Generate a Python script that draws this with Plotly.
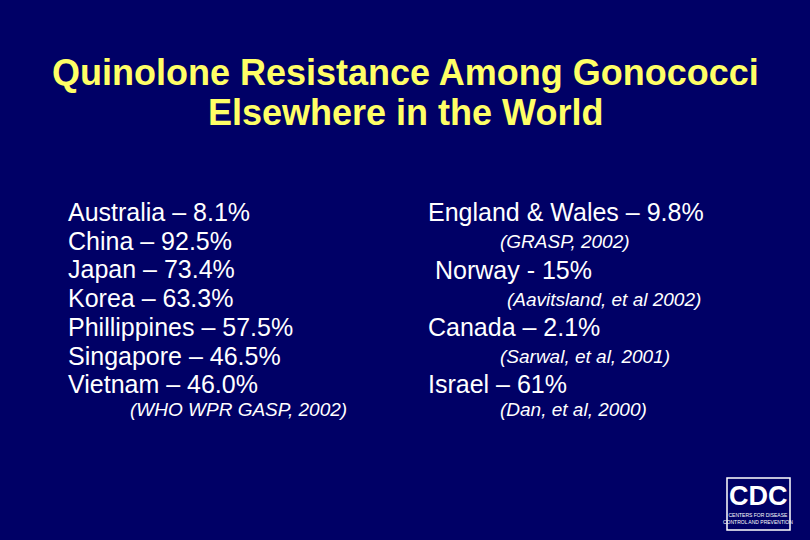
import plotly.graph_objects as go

# Slide text
title_lines = ["Quinolone Resistance Among Gonococci", "Elsewhere in the World"]

asia_countries = ["Australia", "China", "Japan", "Korea", "Phillippines", "Singapore", "Vietnam"]
asia_values = ["8.1%", "92.5%", "73.4%", "63.3%", "57.5%", "46.5%", "46.0%"]
asia_source = "(WHO WPR GASP, 2002)"

other_countries = ["England & Wales", "Norway", "Canada", "Israel"]
other_values = ["9.8%", "15%", "2.1%", "61%"]
other_seps = [" – ", " - ", " – ", " – "]
other_sources = ["(GRASP, 2002)", "(Aavitsland, et al 2002)", "(Sarwal, et al, 2001)", "(Dan, et al, 2000)"]

BG = "#000066"
YELLOW = "#FFFF66"
FONT = "Liberation Sans, Arial, sans-serif"

fig = go.Figure()
ann = []

def txt(x, y, s, size, color="white", anchor="left", italic=False, bold=False):
    if italic:
        s = "<i>" + s + "</i>"
    if bold:
        s = "<b>" + s + "</b>"
    ann.append(dict(x=x, y=y, text=s, showarrow=False, xanchor=anchor, yanchor="middle",
                    font=dict(family=FONT, size=size, color=color)))

for i, line in enumerate(title_lines):
    txt(405, 72 + i * 40, line, 36, YELLOW, "center", bold=True)

for i, (c, v) in enumerate(zip(asia_countries, asia_values)):
    txt(66, 212 + i * 28.7, c + " – " + v, 25)
txt(128, 409, asia_source, 19, italic=True)

main_x = [426, 433, 426, 426]
src_x = [498, 505, 498, 498]
main_y = [212, 270, 327, 384]
src_y = [241, 299, 356, 409]
for i, (c, v) in enumerate(zip(other_countries, other_values)):
    txt(main_x[i], main_y[i], c + other_seps[i] + v, 25)
    txt(src_x[i], src_y[i], other_sources[i], 19, italic=True)

# CDC logo
fig.add_shape(type="rect", x0=727, x1=790, y0=478, y1=530, line=dict(color="white", width=1.5))
txt(758, 496, "<b>CDC</b>", 27, anchor="center")
txt(758, 518, "CENTERS FOR DISEASE<br>CONTROL AND PREVENTION", 5, anchor="center")

fig.update_layout(
    width=810, height=540, margin=dict(l=0, r=0, t=0, b=0),
    paper_bgcolor=BG, plot_bgcolor=BG, annotations=ann, showlegend=False,
    xaxis=dict(range=[0, 810], visible=False),
    yaxis=dict(range=[540, 0], visible=False),
)
fig.write_html("out.html", config={"displayModeBar": False},
               post_script="document.body.style.margin='0';document.body.style.background='#000066';")
